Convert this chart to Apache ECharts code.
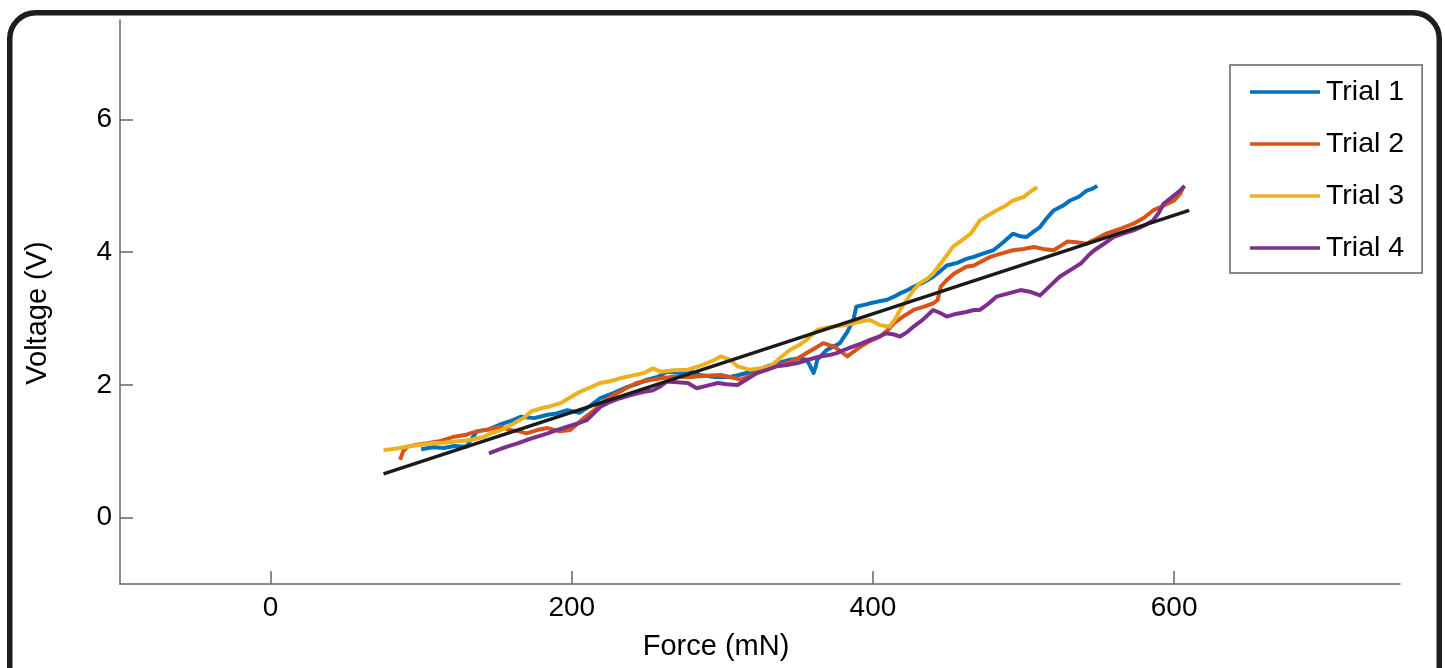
<!DOCTYPE html>
<html>
<head>
<meta charset="utf-8">
<style>
html,body{margin:0;padding:0;background:#fff;}
#chart{width:1445px;height:668px;}
</style>
<script src="https://cdn.jsdelivr.net/npm/echarts@6/dist/echarts.min.js"></script>
</head>
<body>
<div id="chart"></div>
<script>
const seriesNames = ['Trial 1', 'Trial 2', 'Trial 3', 'Trial 4'];
const xTicks = [0, 200, 400, 600];
const yTicks = [0, 2, 4, 6];

const trial1 = [[100,1.03],[108,1.06],[115,1.05],[122,1.08],[130,1.07],[137,1.30],[145,1.33],[152,1.40],[161,1.47],[166,1.52],[175,1.50],[184,1.55],[190,1.57],[197,1.62],[205,1.58],[212,1.68],[219,1.80],[228,1.88],[237,1.97],[244,2.02],[250,2.08],[257,2.12],[263,2.20],[272,2.18],[279,2.20],[285,2.15],[295,2.12],[305,2.12],[311,2.15],[316,2.18],[323,2.22],[330,2.28],[337,2.33],[345,2.38],[351,2.40],[356,2.38],[358,2.30],[360.6,2.18],[362,2.28],[363,2.38],[366,2.45],[369.5,2.53],[374,2.58],[378,2.63],[383,2.80],[387,2.98],[389,3.18],[393,3.20],[398,3.23],[404,3.26],[409,3.28],[414,3.33],[418,3.38],[423,3.43],[427,3.48],[434,3.55],[440,3.63],[445,3.72],[449,3.80],[456,3.84],[462,3.90],[467,3.93],[473,3.98],[480,4.03],[486,4.14],[493,4.28],[498,4.24],[502,4.23],[506,4.30],[511,4.38],[515,4.50],[520,4.63],[526,4.70],[531,4.78],[537,4.84],[542,4.93],[546,4.96],[549,5.0]];

const trial2 = [[86,0.87],[88,1.0],[91,1.07],[97,1.10],[104,1.12],[112,1.15],[122,1.22],[130,1.25],[137,1.30],[145,1.33],[153,1.37],[159,1.32],[165,1.30],[170,1.27],[177,1.32],[184,1.35],[192,1.30],[199,1.32],[207,1.48],[215,1.62],[221,1.75],[228,1.85],[236,1.95],[243,2.03],[251,2.07],[259,2.10],[266,2.12],[272,2.12],[279,2.12],[289,2.14],[299,2.15],[305,2.12],[312,2.08],[320,2.15],[327,2.23],[335,2.28],[343,2.33],[350,2.40],[356,2.48],[362,2.56],[367,2.63],[371,2.60],[374,2.58],[379,2.50],[383,2.43],[387,2.50],[392,2.58],[398,2.66],[405,2.73],[410,2.83],[414,2.93],[420,3.03],[427,3.13],[434,3.18],[440,3.23],[443,3.28],[445,3.48],[449,3.58],[454,3.68],[462,3.78],[467,3.80],[472,3.86],[478,3.93],[485,3.98],[493,4.03],[500,4.05],[507,4.08],[513,4.05],[520,4.03],[525,4.10],[529,4.16],[535,4.15],[542,4.13],[548,4.20],[555,4.28],[564,4.35],[573,4.43],[580,4.52],[586,4.63],[593,4.70],[600,4.78],[604,4.88],[606,4.98]];

const trial3 = [[75,1.02],[80,1.03],[86,1.05],[93,1.08],[100,1.10],[107,1.12],[115,1.13],[124,1.15],[133,1.17],[142,1.22],[147,1.28],[153,1.32],[160,1.40],[168,1.50],[173,1.60],[180,1.65],[186,1.68],[193,1.73],[198,1.80],[204,1.88],[211,1.95],[219,2.03],[226,2.06],[232,2.10],[240,2.14],[248,2.18],[254,2.25],[259,2.20],[268,2.22],[277,2.23],[284,2.28],[290,2.33],[295,2.38],[299,2.43],[305,2.38],[310,2.28],[318,2.23],[325,2.25],[332,2.28],[338,2.40],[345,2.53],[351,2.60],[356,2.68],[363,2.83],[368,2.86],[374,2.88],[381,2.90],[387,2.93],[393,2.96],[398,2.98],[405,2.90],[411,2.88],[415,3.00],[418,3.13],[423,3.30],[427,3.43],[431,3.53],[436,3.60],[440,3.68],[445,3.83],[449,3.95],[453,4.08],[459,4.18],[465,4.28],[471,4.48],[476,4.55],[482,4.63],[488,4.70],[493,4.78],[500,4.83],[505,4.92],[509,4.98]];

const trial4 = [[145,0.97],[151,1.02],[157,1.07],[164,1.12],[170,1.17],[177,1.22],[184,1.27],[190,1.32],[197,1.37],[204,1.42],[210,1.47],[215,1.58],[219,1.67],[226,1.75],[232,1.80],[238,1.84],[243,1.87],[249,1.90],[254,1.92],[259,1.98],[263,2.05],[270,2.04],[277,2.03],[283,1.95],[290,1.99],[297,2.03],[303,2.01],[310,2.00],[316,2.08],[323,2.18],[330,2.23],[336,2.28],[343,2.30],[350,2.33],[357,2.38],[365,2.43],[371,2.45],[376,2.48],[381,2.53],[387,2.58],[393,2.63],[398,2.68],[404,2.73],[409,2.78],[414,2.76],[418,2.73],[423,2.80],[427,2.88],[433,2.98],[440,3.13],[445,3.08],[449,3.03],[455,3.07],[462,3.10],[467,3.13],[471,3.13],[477,3.23],[482,3.33],[490,3.38],[498,3.43],[505,3.40],[511,3.35],[518,3.50],[524,3.63],[531,3.73],[538,3.83],[543,3.95],[547,4.03],[553,4.12],[560,4.23],[566,4.28],[573,4.33],[580,4.40],[586,4.48],[590,4.60],[593,4.73],[598,4.82],[604,4.93],[607,5.0]];

const fitLine = [[75,0.66],[610,4.63]];

const colors = ['#0072BD', '#D95319', '#EDB120', '#7E2F8E'];
const FONT = '"Liberation Sans", Arial, Helvetica, sans-serif';

const chart = echarts.init(document.getElementById('chart'), null, {renderer: 'canvas'});

const trialData = [trial1, trial2, trial3, trial4];
const series = trialData.map((d, i) => ({
  name: seriesNames[i],
  type: 'line',
  data: d,
  showSymbol: false,
  symbol: 'none',
  lineStyle: {color: colors[i], width: 4, join: 'round'},
  itemStyle: {color: colors[i]},
  animation: false,
  z: 3
}));
series.push({
  name: 'Fit',
  type: 'line',
  data: fitLine,
  showSymbol: false,
  symbol: 'none',
  lineStyle: {color: '#1a1a1a', width: 3.5},
  animation: false,
  z: 4
});

const axisCommon = {
  axisLine: {show: true, onZero: false, lineStyle: {color: '#666', width: 1.5}},
  axisTick: {show: true, inside: true, length: 13, lineStyle: {color: '#666', width: 1.5}},
  splitLine: {show: false},
  axisLabel: {color: '#000', fontSize: 28, fontFamily: FONT},
  nameTextStyle: {color: '#000', fontSize: 29, fontFamily: FONT}
};

chart.setOption({
  animation: false,
  backgroundColor: '#fff',
  textStyle: {fontFamily: FONT},
  grid: {left: 120, right: 45, top: 20, bottom: 84, containLabel: false},
  xAxis: Object.assign({}, axisCommon, {
    type: 'value',
    min: -100, max: 750,
    name: 'Force (mN)',
    nameLocation: 'middle',
    nameGap: 48,
    nameTextStyle: Object.assign({}, axisCommon.nameTextStyle, {padding: [0, 88, 0, 0]}),
    axisTick: Object.assign({}, axisCommon.axisTick, {customValues: xTicks}),
    axisLabel: Object.assign({}, axisCommon.axisLabel, {customValues: xTicks, margin: 10})
  }),
  yAxis: Object.assign({}, axisCommon, {
    type: 'value',
    min: -1, max: 7.5,
    name: 'Voltage (V)',
    nameLocation: 'middle',
    nameGap: 68,
    nameTextStyle: Object.assign({}, axisCommon.nameTextStyle, {padding: [0, 22, 0, 0]}),
    axisTick: Object.assign({}, axisCommon.axisTick, {customValues: yTicks}),
    axisLabel: Object.assign({}, axisCommon.axisLabel, {customValues: yTicks, margin: 8})
  }),
  legend: {
    data: seriesNames.map((n) => ({name: n, icon: 'rect'})),
    orient: 'vertical',
    left: 1230,
    top: 65,
    itemWidth: 70,
    itemHeight: 3.5,
    itemGap: 22,
    padding: [12, 18, 10, 20],
    borderColor: '#666',
    borderWidth: 1.5,
    backgroundColor: '#fff',
    textStyle: {color: '#000', fontSize: 28.5, fontFamily: FONT, lineHeight: 30, padding: [0, 0, 0, 1]}
  },
  graphic: [{
    type: 'rect',
    silent: true,
    z: 100,
    shape: {x: 9.75, y: 12.75, width: 1429.5, height: 700, r: 26},
    style: {fill: null, stroke: '#1e1e1e', lineWidth: 5.5}
  }],
  series: series
});
</script>
</body>
</html>
